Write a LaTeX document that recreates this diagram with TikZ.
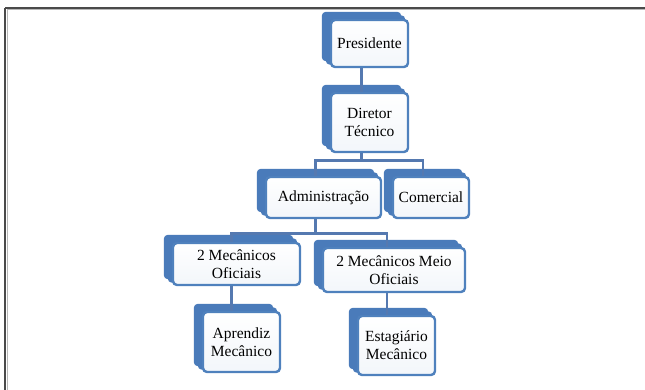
\documentclass[tikz,border=0pt]{standalone}
\usepackage{fontspec}
\setmainfont{Liberation Serif}
\newfontfamily\boxfont{Liberation Serif}
\usetikzlibrary{backgrounds}
\definecolor{boxblue}{HTML}{4F81BD}
\definecolor{backblue}{HTML}{4A7BBA}
\definecolor{connblue}{HTML}{5579B0}
\definecolor{framegray}{HTML}{4A4A4A}
\tikzset{
  front/.style={draw=boxblue, line width=2.4pt, rounded corners=4pt,
    top color=white, bottom color=white!93!boxblue,
    inner sep=0pt, align=center,
    font=\boxfont\fontsize{15.5}{18}\selectfont},
  conn/.style={draw=connblue, line width=2.8pt},
  backshape/.style={fill=backblue, rounded corners=4pt},
}
\newcommand{\backof}[1]{%
  \fill[backshape] ([shift={(-8pt,7pt)}]#1.north west) rectangle ([shift={(-8pt,7pt)}]#1.south east);
  \fill[backshape] ([shift={(-4pt,3.5pt)}]#1.north west) rectangle ([shift={(-4pt,3.5pt)}]#1.south east);
}
\begin{document}
\begin{tikzpicture}[x=1pt, y=-1pt]
\useasboundingbox (0,0) rectangle (645,390);
% frame
\draw[framegray!40, line width=1pt] (7,10) -- (645,10);
\draw[framegray!40, line width=1pt] (7,10) -- (7,390);
\draw[framegray, line width=1.6pt] (5,8) -- (645,8);
\draw[framegray, line width=1.6pt] (5,8) -- (5,390);

% nodes
\node[front, minimum width=77pt, minimum height=47pt] (pres) at (369.5,43.5) {Presidente};
\node[front, minimum width=77pt, minimum height=59pt] (dir) at (369.5,122.5) {Diretor\\Técnico};
\node[front, minimum width=115pt, minimum height=41pt] (adm) at (323.5,197.5) {Administração};
\node[front, minimum width=76pt, minimum height=41pt] (com) at (431,197.5) {Comercial};
\node[front, minimum width=127pt, minimum height=42pt] (mo) at (236.5,264) {2 Mecânicos\\Oficiais};
\node[front, minimum width=142pt, minimum height=44pt] (mmo) at (394,270) {2 Mecânicos Meio\\Oficiais};
\node[front, minimum width=77pt, minimum height=60pt] (apr) at (241.5,342) {Aprendiz\\Mecânico};
\node[front, minimum width=77pt, minimum height=59pt] (est) at (396.5,345.5) {Estagiário\\Mecânico};

\begin{scope}[on background layer]
  \backof{pres}
  \backof{dir}
  \backof{adm}
  \backof{com}
  \backof{mo}
  \backof{mmo}
  \backof{apr}
  \backof{est}
  % connectors
  \draw[conn] ([xshift=-8pt]pres.south) -- ([xshift=-8pt]dir.north);
  \draw[conn] ([xshift=-8pt]dir.south) -- ++(0,-7pt) coordinate (b1);
  \draw[conn] ([xshift=-8pt]adm.north) |- (b1) -| ([xshift=-8pt]com.north);
  \draw[conn] ([xshift=-8pt]adm.south) -- ++(0,-14pt) coordinate (b2);
  \draw[conn] ([xshift=-5pt]mo.north) |- (b2) -| ([xshift=-7pt]mmo.north);
  \draw[conn] ([xshift=-5pt]mo.south) -- ++(0,-25pt) coordinate (c1);
  \draw[conn] ([xshift=-7pt]mmo.south) -- ++(0,-24pt) coordinate (c2);
\end{scope}
\end{tikzpicture}
\end{document}
